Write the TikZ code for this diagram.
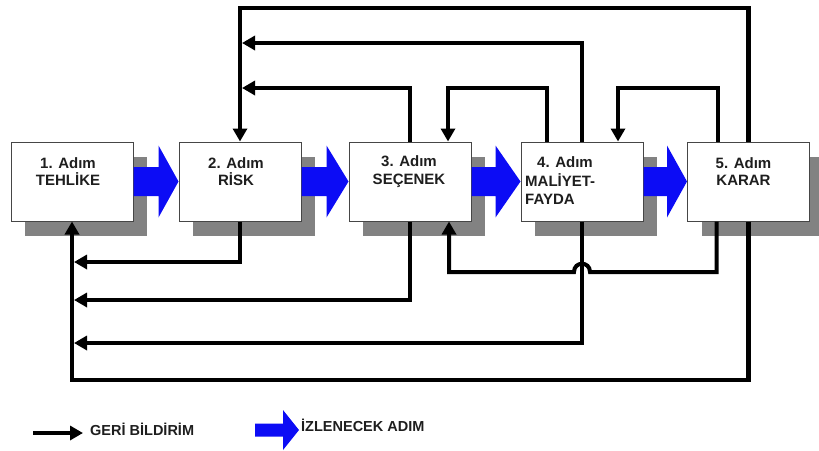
\documentclass[tikz,border=0pt]{standalone}
\usepackage{fontspec}
\setmainfont{Liberation Sans}
\usetikzlibrary{arrows.meta,calc,shadows}
\definecolor{shadowgray}{RGB}{130,130,130}
\definecolor{flowblue}{RGB}{12,12,245}
\definecolor{boxline}{RGB}{70,70,70}
\definecolor{txt}{RGB}{30,30,30}
\newcommand{\blueflow}[3]{%
  \fill[flowblue] ($(#1.east)+(0,-14.5)$) -- ($(#2.west)+(-#3,-14.5)$) -- ($(#2.west)+(-#3,-36)$) -- (#2.west) -- ($(#2.west)+(-#3,36)$) -- ($(#2.west)+(-#3,14.5)$) -- ($(#1.east)+(0,14.5)$) -- cycle;}
\tikzset{
  stepbox/.style={draw=boxline, line width=1pt, fill=white, minimum width=122pt, minimum height=79pt, inner sep=0pt,
    drop shadow={shadow xshift=14pt, shadow yshift=-15pt, fill=shadowgray, draw=none, opacity=1}},
  lbl/.style={text=txt, font=\bfseries\fontsize{15}{17.5}\selectfont, align=center, inner sep=0pt},
  legtxt/.style={text=txt, font=\bfseries\fontsize{14.5}{16}\selectfont, inner sep=0pt},
  fb/.style={draw=black, line width=4pt, line join=miter},
  fbo/.style={fb, line width=4.6pt},
  Tri/.tip={Triangle[width=14pt,length=13pt]}
}
\begin{document}
\begin{tikzpicture}[x=1pt,y=-1pt]
\useasboundingbox (0,0) rectangle (819,450);
% boxes
\node[stepbox] (b1) at (72,181.5) {};
\node[stepbox] (b2) at (240,181.5) {};
\node[stepbox] (b3) at (410,181.5) {};
\node[stepbox] (b4) at (582,181.5) {};
\node[stepbox] (b5) at (748.5,181.5) {};
% labels
\node[lbl] (t1) at ($(b1.center)+(-4,-10)$) {1. Adım\\TEHLİKE};
\node[lbl] (t2) at ($(b2.center)+(-4,-10)$) {2. Adım\\RİSK};
\node[lbl] (t3) at ($(b3.center)+(-1,-10)$) {3. Adım\\SEÇENEK};
\node[lbl, align=left, anchor=west, font=\bfseries\fontsize{15}{18.5}\selectfont] (t4) at (525,181) {\hspace*{12pt}4. Adım\\MALİYET-\\FAYDA};
\node[lbl] (t5) at ($(b5.center)+(-5,-10)$) {5. Adım\\KARAR};
% blue flow arrows
\blueflow{b1}{b2}{20}
\blueflow{b2}{b3}{22}
\blueflow{b3}{b4}{25}
\blueflow{b4}{b5}{20}
% levels
\coordinate (yA) at (0,8);
\coordinate (yB) at (0,43);
\coordinate (yC) at (0,88);
\coordinate (yD) at (0,262);
\coordinate (yE) at (0,272);
\coordinate (yF) at (0,300);
\coordinate (yG) at (0,343);
\coordinate (yH) at (0,380);
\path (b2.north |- yB) ++(2,0) coordinate (jB);
\path (b2.north |- yC) ++(2,0) coordinate (jC);
\path (b1.south |- yD) ++(2,0) coordinate (jD);
\path (b1.south |- yF) ++(2,0) coordinate (jF);
\path (b1.south |- yG) ++(2,0) coordinate (jG);
\path (b4.north) ++(-35,0) coordinate (b4n1);
\path (b4.north) ++(36,0) coordinate (b4n2);
\path (b3.north) ++(38,0) coordinate (b3n1);
\path (b5.north) ++(-31,0) coordinate (b5n1);
\path (b5.south) ++(-32,0) coordinate (b5s1);
\path (b3.south) ++(39,0) coordinate (b3s1);
\path (b4.south |- yE) ++(8,0) coordinate (jr);
\path (b4.south |- yE) ++(-8,0) coordinate (jl);
% feedback connectors (top)
\draw[fbo,-{Tri}] (b5.north) |- (yA -| b2.north) -- (b2.north);
\draw[fb,-{Tri}] (b4.north) |- (jB);
\draw[fb,-{Tri}] (b3.north) |- (jC);
\draw[fb,-{Tri}] (b4n1) |- (yC -| b3n1) -- (b3n1);
\draw[fb,-{Tri}] (b5n1) |- (yC -| b4n2) -- (b4n2);
% feedback connectors (bottom)
\draw[fb,-{Tri}] (b2.south) |- (jD);
\draw[fb,-{Tri}] (b3.south) |- (jF);
\draw[fb,-{Tri}] (b4.south) |- (jG);
\draw[fbo,-{Tri}] (b5.south) |- (yH -| b1.south) -- (b1.south);
\draw[fb,-{Tri}] (b5s1) |- (jr) .. controls +(0,-11) and +(0,-11) .. (jl) -- (yE -| b3s1) -- (b3s1);
% legend
\coordinate (lgA) at (33,433);
\coordinate (lgB) at (83,433);
\draw[fb,-{Tri}] (lgA) -- (lgB);
\node[legtxt, anchor=west] (lg1) at (90,429) {GERİ BİLDİRİM};
\fill[flowblue] (255,423.5) -- (283,423.5) -- (283,410) -- (299,430) -- (283,450) -- (283,436.5) -- (255,436.5) -- cycle;
\node[legtxt, anchor=west] (lg2) at (301,425) {İZLENECEK ADIM};
\end{tikzpicture}
\end{document}
